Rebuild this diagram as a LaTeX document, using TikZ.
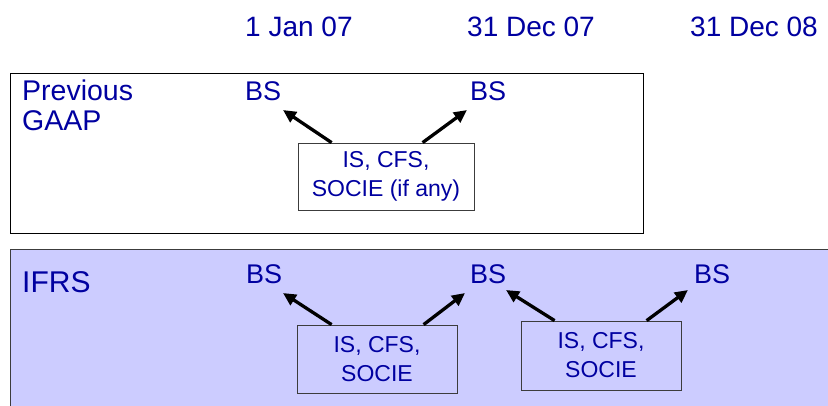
\documentclass[tikz,border=0pt]{standalone}
\usepackage{fontspec}
\setmainfont{Liberation Sans}
\usetikzlibrary{arrows.meta}
\definecolor{txtblue}{RGB}{0,0,160}
\definecolor{panelblue}{RGB}{204,204,255}
\definecolor{boxedge}{RGB}{60,60,60}
\begin{document}
\begin{tikzpicture}[x=1pt,y=-1pt,
  datelbl/.style={anchor=base west,inner sep=0pt,text=txtblue,font=\fontsize{28}{30}\selectfont},
  biglbl/.style={anchor=base west,inner sep=0pt,text=txtblue,font=\fontsize{28.5}{30}\selectfont,align=left},
  bslbl/.style={anchor=base west,inner sep=0pt,text=txtblue,font=\fontsize{27}{30}\selectfont},
  stmt/.style={draw=boxedge,line width=0.8pt,fill=white,inner sep=0pt,text=txtblue,
    font=\fontsize{23}{29}\selectfont,align=center},
  arr/.style={line width=3.3pt,-{Triangle[length=13pt,width=12pt]}}
]
\useasboundingbox (0,0) rectangle (828,405);
% date header
\node[datelbl] (d1) at (245,36) {1 Jan 07};
\node[datelbl] (d2) at (467,36) {31 Dec 07};
\node[datelbl] (d3) at (690,36) {31 Dec 08};
% previous GAAP panel
\node[draw=black,line width=0.8pt,minimum width=633pt,minimum height=160pt,inner sep=0pt] (gaap) at (326.5,153) {};
\node[biglbl] (prev) at (22,100) {Previous};
\node[biglbl] (gaaplbl) at (22,130) {GAAP};
\node[bslbl] (gbs1) at (245,100) {BS};
\node[bslbl] (gbs2) at (470,100) {BS};
\node[stmt,minimum width=176pt,minimum height=67pt] (gst) at (386,176.5) {IS, CFS,\\SOCIE (if any)};
\coordinate (gt1) at (283,110);
\coordinate (gt2) at (467,110);
\draw[arr] ([xshift=34pt]gst.north west) -- (gt1);
\draw[arr] ([xshift=125pt]gst.north west) -- (gt2);
% IFRS panel
\node[draw=boxedge,line width=0.8pt,fill=panelblue,minimum width=860pt,minimum height=180pt,inner sep=0pt,anchor=north west] (ifrs) at (10,249) {};
\node[anchor=base west,inner sep=0pt,text=txtblue,font=\fontsize{30}{32}\selectfont] (ifrslbl) at (22,292) {IFRS};
\node[bslbl] (ibs1) at (246,283) {BS};
\node[bslbl] (ibs2) at (470,283) {BS};
\node[bslbl] (ibs3) at (694,283) {BS};
\node[stmt,fill=panelblue,minimum width=160pt,minimum height=68pt] (ist1) at (377,359) {IS, CFS,\\SOCIE};
\node[stmt,fill=panelblue,minimum width=160pt,minimum height=69pt] (ist2) at (601,355.5) {IS, CFS,\\SOCIE};
\coordinate (it1) at (283,293);
\coordinate (it2) at (465,293);
\coordinate (it3) at (506,290);
\coordinate (it4) at (688,290);
\draw[arr] ([xshift=35pt]ist1.north west) -- (it1);
\draw[arr] ([xshift=127pt]ist1.north west) -- (it2);
\draw[arr] ([xshift=34pt]ist2.north west) -- (it3);
\draw[arr] ([xshift=126pt]ist2.north west) -- (it4);
\end{tikzpicture}
\end{document}
